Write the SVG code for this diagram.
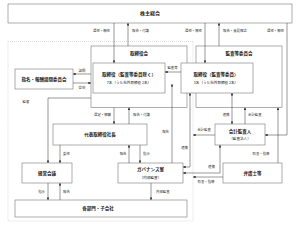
<svg xmlns="http://www.w3.org/2000/svg" width="300" height="225" viewBox="0 0 300 225">
<style>
.box{fill:#fff;stroke:#777;stroke-width:0.6}
.bd{fill:none;stroke:#c8c8c8;stroke-width:0.6;stroke-dasharray:1 1}
text{font-family:"Noto Sans CJK JP","Noto Sans",sans-serif;fill:#222}
.t{font-size:4.5px;font-weight:bold;text-anchor:middle}
.s{font-size:3.6px;text-anchor:middle}
.l{font-size:3.4px;fill:#333}
.m{text-anchor:middle}
.e{text-anchor:end}
.c{fill:none;stroke:#333;stroke-width:0.5;marker-end:url(#a)}
.b{marker-start:url(#a)}
</style>
<defs>
<marker id="a" viewBox="0 0 4 4" refX="4" refY="2" markerWidth="2.6" markerHeight="2.6" markerUnits="userSpaceOnUse" orient="auto-start-reverse"><path d="M0,0L4,2L0,4z" fill="#222"/></marker>
</defs>
<rect class="bd" x="8" y="41.5" width="185" height="179.5"/>
<g id="kabunushi"><rect class="box" x="8" y="4" width="284" height="19"/><text class="t" x="150" y="15.3" style="font-size:5px">株主総会</text></g>
<g id="torishimariyakukai"><rect class="box" x="91" y="46" width="96" height="61.5"/><text class="t" x="139" y="55">取締役会</text></g>
<g id="kansatou-iinkai"><rect class="box" x="196" y="46" width="86" height="61.5"/><text class="t" x="239" y="55">監査等委員会</text></g>
<g id="torishimariyaku"><rect class="box" x="93" y="63" width="72" height="30"/><text class="t" x="129" y="75.5">取締役（監査等委員除く）</text><text class="s" x="129" y="84">7名（うち社外取締役 2名）</text></g>
<g id="torishimariyaku-kansa"><rect class="box" x="181" y="63" width="72" height="30"/><text class="t" x="216" y="75.5">取締役（監査等委員）</text><text class="s" x="216" y="84">3名（うち社外取締役 2名）</text></g>
<g id="shimei"><rect class="box" x="15" y="69" width="58" height="20"/><text class="t" x="44" y="80.5">指名・報酬諮問委員会</text></g>
<g id="shacho"><rect class="box" x="53" y="124" width="94" height="21"/><text class="t" x="100" y="136">代表取締役社長</text></g>
<g id="kaikei"><rect class="box" x="215" y="124" width="50" height="21"/><text class="t" x="240" y="133">会計監査人</text><text class="s" x="240" y="140">（監査法人）</text></g>
<g id="keiei"><rect class="box" x="22" y="163" width="50" height="20"/><text class="t" x="47" y="174.5">経営会議</text></g>
<g id="governance"><rect class="box" x="118" y="163" width="65" height="20"/><text class="t" x="150.5" y="171">ガバナンス室</text><text class="s" x="150.5" y="178.5">（内部監査）</text></g>
<g id="bengoshi"><rect class="box" x="223" y="163" width="59" height="20"/><text class="t" x="252.5" y="174.5">弁護士等</text></g>
<g id="kakubumon"><rect class="box" x="15" y="200" width="172" height="17"/><text class="t" x="98" y="210">各部門・子会社</text></g>
<g id="connectors">
<path class="c" d="M114,23V63"/>
<path class="c" d="M128,46V23"/>
<path class="c" d="M205,23V63"/>
<path class="c" d="M219,46V23"/>
<path class="c" d="M287,23V135H265"/>
<path class="c" d="M91,74H73"/>
<path class="c" d="M73,83H91"/>
<path class="c" d="M181,72H165"/>
<path class="c" d="M91,98H48V163"/>
<path class="c" d="M114,107.5V124"/>
<path class="c" d="M129,124V107.5"/>
<path class="c" d="M60,145V163"/>
<path class="c" d="M129,163V145"/>
<path class="c" d="M140,145V163"/>
<path class="c" d="M48,183V200"/>
<path class="c" d="M60,200V183"/>
<path class="c" d="M151,183V200"/>
<path class="c" d="M172,163V84"/>
<path class="c b" d="M190,93V167H183"/>
<path class="c b" d="M232,93V124"/>
<path class="c" d="M245,124V107.5"/>
<path class="c" d="M215,135H193"/>
<path class="c b" d="M220,145V173H183"/>
<path class="c" d="M278,163V107.5"/>
<path class="c" d="M223,177H193"/>
</g>
<g id="labels">
<text class="l e" x="110" y="32">選任・解任</text>
<text class="l" x="132" y="32">報告・付議</text>
<text class="l e" x="202" y="32">選任・解任</text>
<text class="l" x="223" y="32">報告・意見陳述</text>
<text class="l e" x="284" y="32">選任・解任</text>
<text class="l m" x="82" y="72">諮問</text>
<text class="l m" x="82" y="89">答申</text>
<text class="l m" x="172.5" y="69">監査等</text>
<text class="l m" x="26" y="103">監督</text>
<text class="l e" x="111" y="116">選定・解職</text>
<text class="l" x="133" y="116">報告・付議</text>
<text class="l e" x="169" y="133">報告</text>
<text class="l e" x="229.5" y="116">連携</text>
<text class="l" x="248" y="116">会計監査</text>
<text class="l m" x="204" y="131">会計監査</text>
<text class="l e" x="188" y="149">連携</text>
<text class="l" x="63" y="155">委任</text>
<text class="l e" x="126.5" y="155">報告</text>
<text class="l" x="143" y="155">指示</text>
<text class="l m" x="211.5" y="168">連携</text>
<text class="l m" x="261" y="155">助言・指導</text>
<text class="l m" x="206" y="183">助言・指導</text>
<text class="l" x="156" y="193">内部監査</text>
<text class="l e" x="45" y="193">指示</text>
<text class="l" x="63" y="193">報告</text>
</g>
</svg>
